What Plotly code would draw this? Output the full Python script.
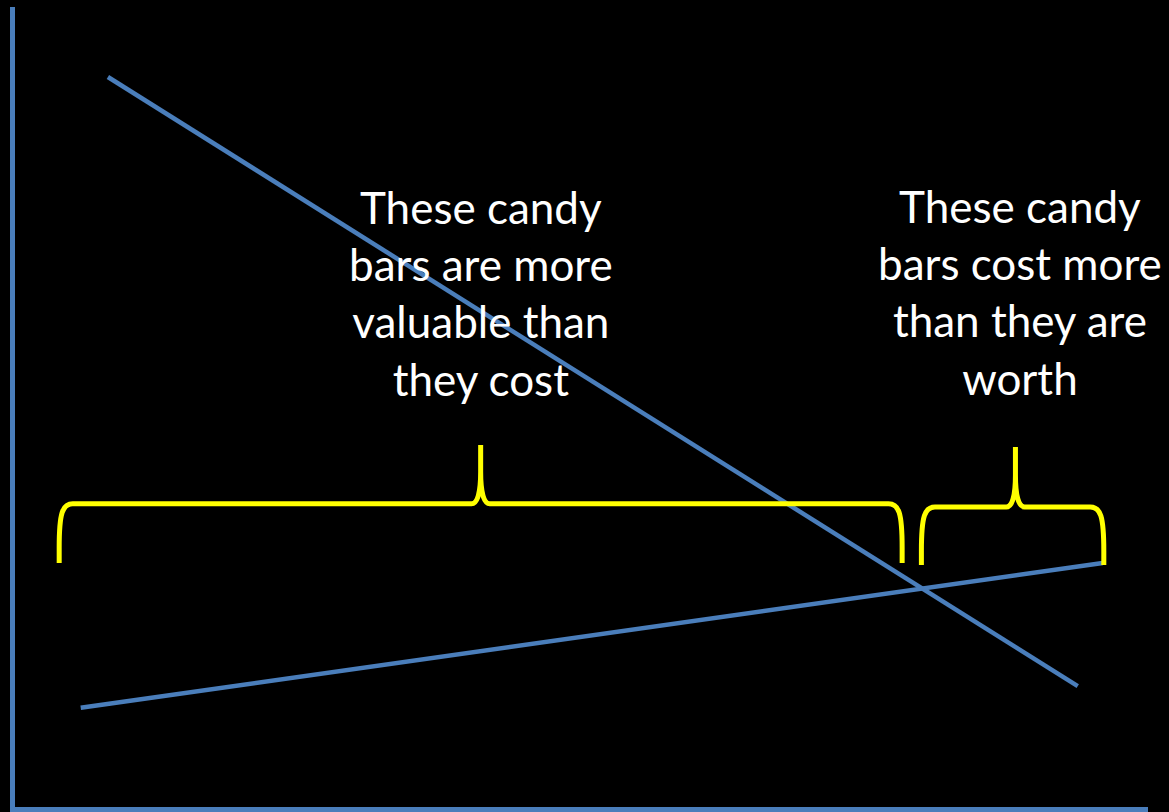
import plotly.graph_objects as go

# Demand (willingness to pay) and supply (cost) lines, quantity vs. price units
demand_q = [8.2, 93.8]
demand_p = [91.25, 15.1]
supply_q = [5.8, 96.0]
supply_p = [12.4, 30.5]

# Brace spans: (left end, right end, tip position, base level, bar level, tip level)
brace_spans = [
    (3.9, 78.3, 41.1, 30.5, 37.9, 45.25),
    (80.0, 96.1, 88.3, 30.25, 37.5, 45.0),
]
brace_labels = [
    "These candy<br>bars are more<br>valuable than<br>they cost",
    "These candy<br>bars cost more<br>than they are<br>worth",
]
label_pos = [(41.1, 64.2), (88.7, 64.4)]

BLUE = "#4A7EBB"
YELLOW = "#FFFF00"


def brace_path(xa, xb, xm, yb, yt, yp, cw=1.2, ch=5.5, tw=0.8, th=4.0):
    """Curly brace opening downward, tip at xm pointing up."""
    return (
        f"M {xa},{yb} L {xa},{yt - ch} "
        f"C {xa},{yt - ch * 0.2} {xa + cw * 0.25},{yt} {xa + cw},{yt} "
        f"L {xm - tw},{yt} "
        f"C {xm - tw * 0.35},{yt} {xm},{yt + th * 0.35} {xm},{yt + th} "
        f"L {xm},{yp} L {xm},{yt + th} "
        f"C {xm},{yt + th * 0.35} {xm + tw * 0.35},{yt} {xm + tw},{yt} "
        f"L {xb - cw},{yt} "
        f"C {xb - cw * 0.25},{yt} {xb},{yt - ch * 0.2} {xb},{yt - ch} "
        f"L {xb},{yb}"
    )


fig = go.Figure()
fig.add_trace(go.Scatter(x=demand_q, y=demand_p, mode="lines",
                         line=dict(color=BLUE, width=4.5), hoverinfo="skip"))
fig.add_trace(go.Scatter(x=supply_q, y=supply_p, mode="lines",
                         line=dict(color=BLUE, width=4.5), hoverinfo="skip"))

for span in brace_spans:
    fig.add_shape(type="path", path=brace_path(*span), xref="x", yref="y",
                  line=dict(color=YELLOW, width=5), layer="above")

for text, (lx, ly) in zip(brace_labels, label_pos):
    fig.add_annotation(x=lx, y=ly, xref="x", yref="y", text=text,
                       showarrow=False, align="center",
                       font=dict(family="Lato", size=44, color="white"))

fig.update_layout(
    width=1169, height=812,
    margin=dict(l=15, r=21, t=7, b=5),
    paper_bgcolor="black", plot_bgcolor="black",
    showlegend=False,
    xaxis=dict(range=[0, 100], showgrid=False, zeroline=False,
               showticklabels=False, ticks="",
               showline=True, linecolor=BLUE, linewidth=5),
    yaxis=dict(range=[0, 100], showgrid=False, zeroline=False,
               showticklabels=False, ticks="",
               showline=True, linecolor=BLUE, linewidth=5),
)

fig.write_html("out.html")
